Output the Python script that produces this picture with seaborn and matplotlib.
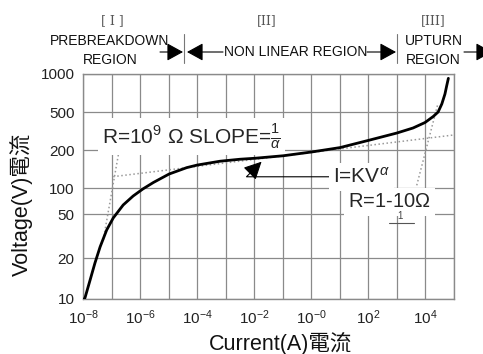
import numpy as np
import seaborn as sns
import matplotlib.pyplot as plt
from matplotlib.patches import FancyArrowPatch
from matplotlib.lines import Line2D

# V-I curve of a varistor (current as decade exponent)
current_exp = [-7.96, -7.93, -7.75, -7.58, -7.40, -7.17, -6.94, -6.59, -6.24, -5.90,
               -5.53, -4.98, -4.36, -3.99, -3.19, -2.49, -1.97, -0.98, 0.03, 1.02,
               2.01, 3.01, 3.58, 4.00, 4.29, 4.46, 4.59, 4.70, 4.76, 4.82]
voltage = [10.0, 10.2, 13.8, 18.4, 25.2, 35.8, 46, 63.6, 80.8, 97.4,
           110.6, 129, 145, 152, 163, 169, 172, 180, 193, 212,
           252, 301, 340, 388, 449, 500, 578, 691, 799, 917]

# dotted asymptotes
pre_exp, pre_v = [-7.29, -6.76], [29, 183]
flat_exp, flat_v = [-6.94, 5.0], [123, 287]
up_exp, up_v = [3.71, 4.46], [105, 588]

x_tick_exp = list(range(-8, 6))
x_tick_labels = ['$10^{-8}$', '', '$10^{-6}$', '', '$10^{-4}$', '', '$10^{-2}$', '',
                 '$10^{-0}$', '', '$10^{2}$', '', '$10^{4}$', '']
y_ticks = [10, 20, 50, 100, 200, 500, 1000]
y_tick_labels = ['10', '20', '50', '100', '200', '500', '1000']
# the printed y axis is not a true log scale: where each tick sits (px from bottom)
y_knots = [0, 41, 85, 111, 149, 187, 225.5]

sns.set_style('white')
plt.rcParams['font.family'] = ['Liberation Sans', 'Noto Sans CJK TC']
plt.rcParams['mathtext.fontset'] = 'custom'
plt.rcParams['mathtext.rm'] = 'Liberation Sans'
plt.rcParams['mathtext.it'] = 'Liberation Sans:italic'
plt.rcParams['mathtext.bf'] = 'Liberation Sans:bold'

W, H = 483, 354
fig = plt.figure(figsize=(W / 100, H / 100), dpi=100)
ax = fig.add_axes([83 / W, 1 - 299 / H, 370.5 / W, 225.5 / H])

log_ticks = np.log10(y_ticks)


def fwd(v):
    v = np.clip(np.asarray(v, dtype=float), 1e-6, None)
    return np.interp(np.log10(v), log_ticks, y_knots)


def inv(p):
    return 10 ** np.interp(p, y_knots, log_ticks)


ax.set_xscale('log')
ax.set_yscale('function', functions=(fwd, inv))

sns.lineplot(x=10.0 ** np.array(current_exp), y=voltage, sort=False, estimator=None,
             color='black', linewidth=2.0, ax=ax, zorder=5)
dot = dict(color='#9a9a9a', linestyle=':', linewidth=1.1, zorder=2)
ax.plot(10.0 ** np.array(pre_exp), pre_v, **dot)
ax.plot(10.0 ** np.array(flat_exp), flat_v, **dot)
ax.plot(10.0 ** np.array(up_exp), up_v, **dot)

ax.set_xlim(1e-8, 1e5)
ax.set_ylim(10, 1000)
ax.set_xticks(10.0 ** np.array(x_tick_exp), labels=x_tick_labels)
ax.xaxis.set_minor_locator(plt.NullLocator())
ax.set_yticks(y_ticks, labels=y_tick_labels)
ax.yaxis.set_minor_locator(plt.NullLocator())
ax.tick_params(length=0, labelsize=11, colors='#222222')
ax.tick_params(axis='x', pad=7)
ax.tick_params(axis='y', pad=6)
ax.grid(True, color='#8a8a8a', linewidth=0.9)
ax.set_axisbelow(True)
for s in ax.spines.values():
    s.set_color('#8a8a8a')
    s.set_linewidth(1.0)

ax.set_xlabel('Current(A)電流', fontsize=15.5, color='#111111')
ax.set_ylabel('Voltage(V)電流', fontsize=15.5, color='#111111')
ax.xaxis.set_label_coords(0.532, -0.145)
ax.yaxis.set_label_coords(-0.135, 0.42)

# annotations inside the plot
box = dict(facecolor='white', edgecolor='none', pad=3)
ax.text(0.052, 0.72, r'R=10$^{9}$ $\Omega$ SLOPE=$\frac{1}{\alpha}$', transform=ax.transAxes,
        fontsize=15, ha='left', va='center', bbox=box, zorder=4)
ax.annotate(r'I=KV$^{\alpha}$', xy=(0.482, 0.609), xycoords='axes fraction',
            xytext=(0.675, 0.542), textcoords='axes fraction', fontsize=15,
            ha='left', va='center', bbox=box, zorder=4,
            arrowprops=dict(arrowstyle='-|>,head_length=0.9,head_width=0.45',
                            color='black', lw=0.8, mutation_scale=12,
                            connectionstyle='angle,angleA=0,angleB=45,rad=0',
                            shrinkA=0, shrinkB=0))
ax.text(0.716, 0.431, r'R=1-10$\Omega$', transform=ax.transAxes, fontsize=14.5,
        ha='left', va='center', bbox=box, zorder=4)
ax.text(0.856, 0.37, '1', transform=ax.transAxes, fontsize=7, ha='center',
        va='center', color='#444444', zorder=4)
ax.add_line(Line2D([0.826, 0.893], [0.338, 0.338], transform=ax.transAxes,
                   color='#555555', linewidth=0.8, zorder=4))

# region header above the plot (figure pixel positions, top origin)
def fx(x):
    return x / W


def fy(y):
    return 1 - y / H


hdr = dict(fontsize=10, ha='center', va='center', color='#111111')
fig.text(fx(112), fy(21), '[ I ]', fontsize=9, ha='center', va='center', color='#555555',
         family='DejaVu Serif')
fig.text(fx(267), fy(21), '[II]', fontsize=9, ha='center', va='center', color='#555555',
         family='DejaVu Serif')
fig.text(fx(433), fy(21), '[III]', fontsize=9, ha='center', va='center', color='#555555',
         family='DejaVu Serif')
fig.text(fx(110), fy(41), 'PREBREAKDOWN', **hdr)
fig.text(fx(110), fy(60), 'REGION', **hdr)
fig.text(fx(296), fy(52), 'NON LINEAR REGION', **hdr)
fig.text(fx(434), fy(41), 'UPTURN', **hdr)
fig.text(fx(433), fy(60), 'REGION', **hdr)

arrow_kw = dict(arrowstyle='-|>,head_length=1.0,head_width=0.55', mutation_scale=10,
                color='black', lw=0.8, shrinkA=0, shrinkB=0, transform=fig.transFigure)
for x0, x1 in [(160, 183), (223, 187), (367, 396), (464, 492)]:
    fig.add_artist(FancyArrowPatch((fx(x0), fy(52)), (fx(x1), fy(52)), **arrow_kw))
for xv in [184, 397]:
    fig.add_artist(Line2D([fx(xv), fx(xv)], [fy(34), fy(63)], transform=fig.transFigure,
                          color='#777777', linewidth=0.8))

fig.savefig('out.png', dpi=100)
